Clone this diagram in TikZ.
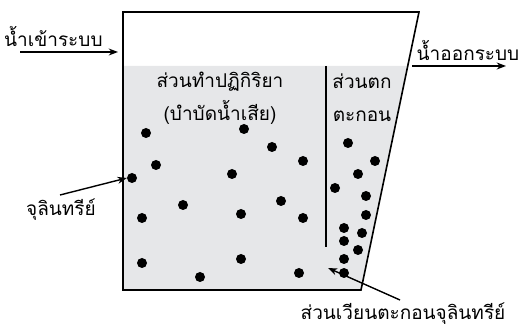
\documentclass[tikz,border=0pt]{standalone}
\usepackage{fontspec}
\newfontfamily\thaifont[Script=Thai]{Loma}
\usetikzlibrary{arrows.meta, positioning, calc}
\definecolor{sludgegray}{RGB}{230,231,233}

\begin{document}
\begin{tikzpicture}[
	x=1pt, y=-1pt, % pixel-like units, y downwards
	>=Stealth,
	% Style for the tank walls
	wall/.style={
		draw=black,
		line width=1.6pt,
		line join=miter
	},
	% Style for flow arrows
	flow/.style={
		->,
		line width=1.4pt
	},
	% Style for the Thai texts
	thaitext/.style={
		inner sep=0pt,
		font=\thaifont\fontsize{19}{33}\selectfont,
		align=center
	},
	% Style for the sludge particles
	particle/.style={
		circle,
		fill=black,
		inner sep=0pt,
		minimum size=10pt
	}
	]
	
	\useasboundingbox (0,0) rectangle (522,328);
	
	% --- TANK ---
	\coordinate (TL) at (123,12);
	\coordinate (TR) at (419,12);
	\coordinate (BL) at (123,290);
	\coordinate (BR) at (361,290);
	
	% water (gray) part
	\fill[sludgegray] (123,66) -- (BL) -- (BR) -- ($(TR)!{54/278}!(BR)$) -- cycle;
	\draw[wall] (TL) -- (BL) -- (BR) -- (TR) -- cycle;
	
	% partition wall
	\coordinate (PT) at (326,66);
	\coordinate (PB) at (326,247);
	\draw[line width=1.4pt] (PT) -- (PB);
	
	% --- TEXTS ---
	\node[thaitext, anchor=base west] (inlet) at (4,47) {น้ำเข้าระบบ};
	\node[thaitext, anchor=base] (outlet) at (468,61) {น้ำออกระบบ};
	\node[thaitext] (reaction) at (220,98) {ส่วนทำปฏิกิริยา\\(บำบัดน้ำเสีย)};
	\node[thaitext] (settle) at (362,98) {ส่วนตก\\ตะกอน};
	\node[thaitext] (microbe) at (61,210) {จุลินทรีย์};
	\node[thaitext] (recycle) at (403,314) {ส่วนเวียนตะกอนจุลินทรีย์};
	
	% --- PARTICLES ---
	\foreach \px/\py [count=\i] in {146/133, 244/129, 272/147, 303/161, 156/165,
		132/178, 232/174, 183/205, 281/201, 142/218, 241/214, 303/218,
		142/263, 241/259, 200/277, 299/273,
		348/143, 375/161, 358/174, 335/188, 366/196, 366/215, 344/228,
		362/233, 344/241, 358/250, 344/259, 344/273}
		\node[particle] (p\i) at (\px,\py) {};
	
	% --- FLOWS ---
	\coordinate (inA) at (20,52);
	\coordinate (inB) at (118,52);
	\draw[flow] (inA) -- (inB);
	\coordinate (outA) at (412,66);
	\coordinate (outB) at (506,66);
	\draw[flow] (outA) -- (outB);
	
	% pointers
	\coordinate (microbeTail) at (60,195);
	\draw[flow] (microbeTail) -- (p6.west);
	\coordinate (recycleTail) at (400,300);
	\coordinate (recycleTip) at (328,268);
	\draw[flow] (recycleTail) -- (recycleTip);
	
\end{tikzpicture}
\end{document}
